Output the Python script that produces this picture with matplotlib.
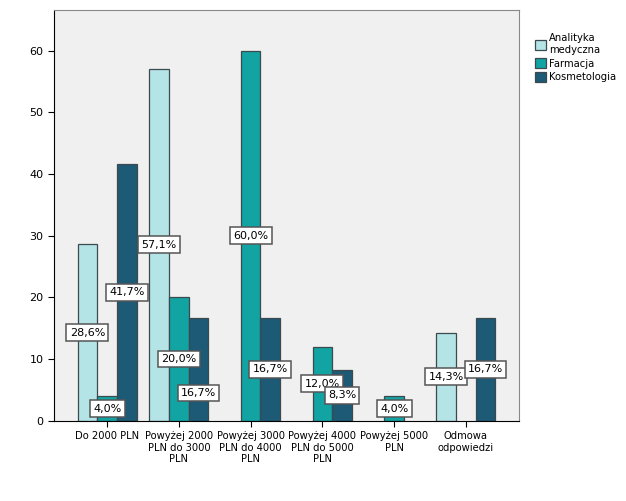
import numpy as np
import matplotlib.pyplot as plt

categories = ["Do 2000 PLN", "Powyżej 2000\nPLN do 3000\nPLN", "Powyżej 3000\nPLN do 4000\nPLN",
              "Powyżej 4000\nPLN do 5000\nPLN", "Powyżej 5000\nPLN", "Odmowa\nodpowiedzi"]
series = ["Analityka\nmedyczna", "Farmacja", "Kosmetologia"]
analityka = [28.6, 57.1, 0, 0, 0, 14.3]
farmacja = [4.0, 20.0, 60.0, 12.0, 4.0, 0]
kosmetologia = [41.7, 16.7, 16.7, 8.3, 0, 16.7]
colors = ["#b4e4e6", "#12a3a3", "#1d5a75"]

# labels moved down to avoid overlap (series index, category index): y
label_shift = {(2, 1): 4.5}

fig = plt.figure(figsize=(6.26, 5.01), dpi=100)
ax = fig.add_axes([0.0863, 0.16, 0.7427, 0.82])
ax.set_facecolor("#f0f0f0")

x = np.arange(len(categories))
w = 0.274
for i, (vals, name, c) in enumerate(zip([analityka, farmacja, kosmetologia], series, colors)):
    pos = x + (i - 1) * w
    labeled = False
    for j, (p, v) in enumerate(zip(pos, vals)):
        if v == 0:
            continue
        ax.bar(p, v, w, color=c, edgecolor="#3c4a4f", linewidth=0.9,
               label=None if labeled else name)
        labeled = True
        y = label_shift.get((i, j), v / 2)
        ax.text(p, y, f"{v:.1f}%".replace(".", ","), ha="center", va="center", fontsize=8,
                bbox=dict(boxstyle="square,pad=0.3", fc="white", ec="#555555", lw=1.1))

ax.set_xlim(-0.74, 5.74)
ax.set_ylim(0, 66.6)
ax.set_yticks(range(0, 70, 10))
ax.set_xticks(x)
ax.set_xticklabels(categories, fontsize=7.2)
ax.tick_params(axis="y", labelsize=8, length=4)
ax.tick_params(axis="x", length=4)
for s in ["top", "right"]:
    ax.spines[s].set_color("#888888")
for s in ["left", "bottom"]:
    ax.spines[s].set_color("black")

ax.legend(loc="upper left", bbox_to_anchor=(1.015, 0.965), frameon=False, fontsize=7.2,
          handlelength=1.1, handleheight=1.1, handletextpad=0.3, labelspacing=0.35)

fig.savefig("out.png", dpi=100)
